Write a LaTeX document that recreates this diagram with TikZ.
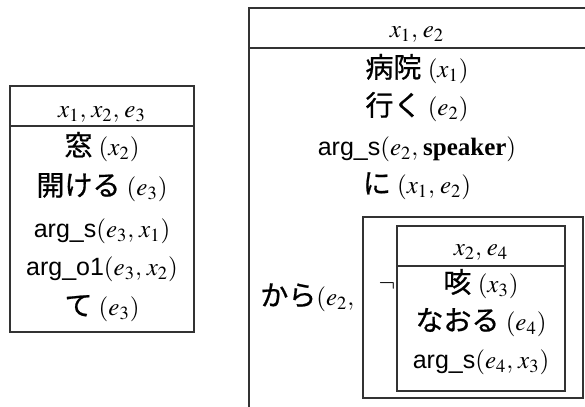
\documentclass[tikz,border=0pt]{standalone}
\usepackage{mathptmx}
\usepackage[no-math]{fontspec}
\setmainfont{Liberation Serif}
\newfontfamily\jpfont{Noto Sans CJK JP}[Scale=1.12, FakeBold=0.8]
\newfontfamily\argfont{Liberation Sans}
\newcommand{\ja}[1]{{\jpfont #1}}
\newcommand{\argrel}[1]{{\argfont #1}}
\newcommand{\cm}{,\mkern1.5mu}

\begin{document}
\begin{tikzpicture}[x=0.5pt, y=-0.5pt]
	\tikzstyle{drs_line} = [draw=black!80, line width=0.6pt]
	\tikzstyle{drs_row} = [inner sep=0pt, text height=8.5pt, text depth=3pt, font=\fontsize{12.5}{15}\selectfont]

	\useasboundingbox (0,0) rectangle (585,407);
	\clip (0,0) rectangle (585,407);

%------------------------------------------------------------
	\draw[drs_line] (10,86) rectangle (194,332);
	\draw[drs_line] (10,126) -- (194,126);

	\node[drs_row] (l0) at (102,112) {$x_1\cm x_2\cm e_3$};
	\node[drs_row] (l1) at (102,150) {\ja{窓} $(x_2)$};
	\node[drs_row] (l2) at (102,190) {\ja{開ける} $(e_3)$};
	\node[drs_row] (l3) at (102,232) {\argrel{arg\_s}$(e_3\cm x_1)$};
	\node[drs_row] (l4) at (102,270) {\argrel{arg\_o1}$(e_3\cm x_2)$};
	\node[drs_row] (l5) at (102,310) {\ja{て} $(e_3)$};

%------------------------------------------------------------
	\draw[drs_line] (249,8) rectangle (590,420);
	\draw[drs_line] (249,48) -- (590,48);

	\node[drs_row] (r0) at (417,32) {$x_1\cm e_2$};
	\node[drs_row] (r1) at (417,72) {\ja{病院} $(x_1)$};
	\node[drs_row] (r2) at (417,110) {\ja{行く} $(e_2)$};
	\node[drs_row] (r3) at (417,150) {\argrel{arg\_s}$(e_2\cm \mbox{\textbf{speaker}})$};
	\node[drs_row] (r4) at (417,188) {\ja{に} $(x_1\cm e_2)$};

	\node[drs_row, anchor=west] (kara) at (260,300) {\ja{から}$(e_2,$};

%------------------------------------------------------------
	\draw[drs_line] (363,217) rectangle (583,398);
	\node[drs_row] (neg) at (387,286) {$\neg$};

	\draw[drs_line] (397,226) rectangle (565,391);
	\draw[drs_line] (397,266) -- (565,266);

	\node[drs_row] (n0) at (481,250) {$x_2\cm e_4$};
	\node[drs_row] (n1) at (481,287) {\ja{咳} $(x_3)$};
	\node[drs_row] (n2) at (481,325) {\ja{なおる} $(e_4)$};
	\node[drs_row] (n3) at (481,363) {\argrel{arg\_s}$(e_4\cm x_3)$};

\end{tikzpicture}
\end{document}
